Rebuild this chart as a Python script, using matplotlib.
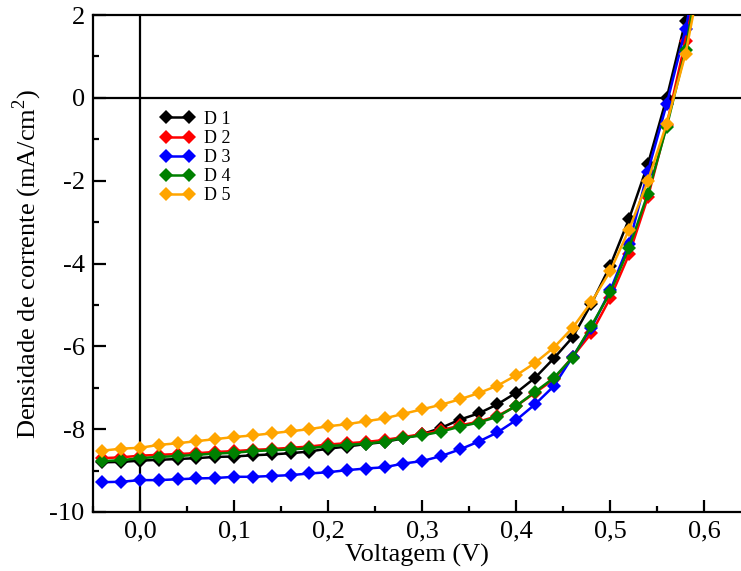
import numpy as np
import matplotlib
matplotlib.use("Agg")
import matplotlib.pyplot as plt
from matplotlib.ticker import MultipleLocator, FuncFormatter

plt.rcParams['font.family'] = ['Liberation Serif', 'DejaVu Serif']
plt.rcParams['mathtext.fontset'] = 'custom'
plt.rcParams['mathtext.rm'] = 'Liberation Serif'

voltage = [-0.04, -0.02, 0.00, 0.02, 0.04, 0.06, 0.08, 0.10, 0.12, 0.14, 0.16,
           0.18, 0.20, 0.22, 0.24, 0.26, 0.28, 0.30, 0.32, 0.34, 0.36, 0.38,
           0.40, 0.42, 0.44, 0.46, 0.48, 0.50, 0.52, 0.54, 0.56, 0.58, 0.60]

d1 = [-8.80, -8.79, -8.76, -8.74, -8.72, -8.70, -8.67, -8.66, -8.63, -8.61, -8.58,
      -8.54, -8.47, -8.42, -8.36, -8.31, -8.22, -8.12, -7.97, -7.77, -7.62, -7.40,
      -7.12, -6.76, -6.29, -5.78, -4.97, -4.05, -2.92, -1.60, 0.00, 1.86, 4.0]
d2 = [-8.70, -8.68, -8.64, -8.62, -8.60, -8.58, -8.55, -8.53, -8.50, -8.48, -8.45,
      -8.42, -8.37, -8.34, -8.31, -8.26, -8.19, -8.12, -8.03, -7.91, -7.82, -7.68,
      -7.44, -7.12, -6.80, -6.25, -5.68, -4.83, -3.78, -2.40, -0.65, 1.38, 3.8]
d3 = [-9.28, -9.27, -9.23, -9.23, -9.21, -9.19, -9.18, -9.15, -9.15, -9.13, -9.11,
      -9.07, -9.04, -8.99, -8.95, -8.92, -8.83, -8.77, -8.65, -8.49, -8.30, -8.08,
      -7.78, -7.40, -6.96, -6.25, -5.55, -4.65, -3.52, -1.78, -0.15, 1.66, 3.9]
d4 = [-8.77, -8.75, -8.70, -8.67, -8.65, -8.62, -8.59, -8.57, -8.53, -8.51, -8.49,
      -8.46, -8.41, -8.38, -8.35, -8.30, -8.21, -8.15, -8.06, -7.94, -7.84, -7.70,
      -7.44, -7.10, -6.76, -6.27, -5.50, -4.70, -3.62, -2.31, -0.70, 1.15, 3.8]
d5 = [-8.52, -8.47, -8.45, -8.38, -8.34, -8.29, -8.24, -8.19, -8.15, -8.10, -8.05,
      -8.00, -7.93, -7.88, -7.81, -7.74, -7.63, -7.52, -7.41, -7.28, -7.13, -6.95,
      -6.70, -6.40, -6.03, -5.55, -4.93, -4.18, -3.18, -2.00, -0.62, 1.06, 3.4]

labels = ['D 1', 'D 2', 'D 3', 'D 4', 'D 5']
colors = ['black', '#ff0000', '#0000ff', '#008000', '#ffa500']
series = [d1, d2, d3, d4, d5]

fig = plt.figure(figsize=(7.41, 5.71), dpi=100)
ax = fig.add_axes([93/741, 1 - 512/571, 1 - 93/741, (512 - 15)/571])

ax.axhline(0, color='black', lw=1.6, zorder=1)
ax.axvline(0, color='black', lw=1.6, zorder=1)

for lab, col, ys in zip(labels, colors, series):
    ax.plot(voltage, ys, color=col, lw=1.8, marker='D', ms=6.8,
            markeredgewidth=0, label=lab, zorder=3)

ax.set_xlim(-0.05, 0.639)
ax.set_ylim(-10, 2)

ax.xaxis.set_major_locator(MultipleLocator(0.1))
ax.xaxis.set_minor_locator(MultipleLocator(0.05))
ax.yaxis.set_major_locator(MultipleLocator(2))
ax.yaxis.set_minor_locator(MultipleLocator(1))
ax.xaxis.set_major_formatter(FuncFormatter(lambda v, p: ('%.1f' % v).replace('.', ',').replace('-0,0', '0,0')))
ax.yaxis.set_major_formatter(FuncFormatter(lambda v, p: '%d' % round(v)))

ax.tick_params(which='both', direction='in', top=False, right=False, width=1.6,
               labelsize=19, colors='black')
ax.tick_params(which='major', length=9, pad=6)
ax.tick_params(which='minor', length=4.5)

for s in ['left', 'bottom', 'top']:
    ax.spines[s].set_linewidth(1.6)
ax.spines['right'].set_visible(False)

ax.set_xlabel('Voltagem (V)', fontsize=19, labelpad=1)
ax.set_ylabel(r'Densidade de corrente (mA/cm$^{2}$)', fontsize=19, labelpad=4)

leg = ax.legend(loc='upper left', bbox_to_anchor=(0.093, 0.822), frameon=False,
                fontsize=13, numpoints=2, handlelength=1.9, handletextpad=0.5,
                labelspacing=0.12, borderaxespad=0)

fig.savefig('out.png', dpi=100)
